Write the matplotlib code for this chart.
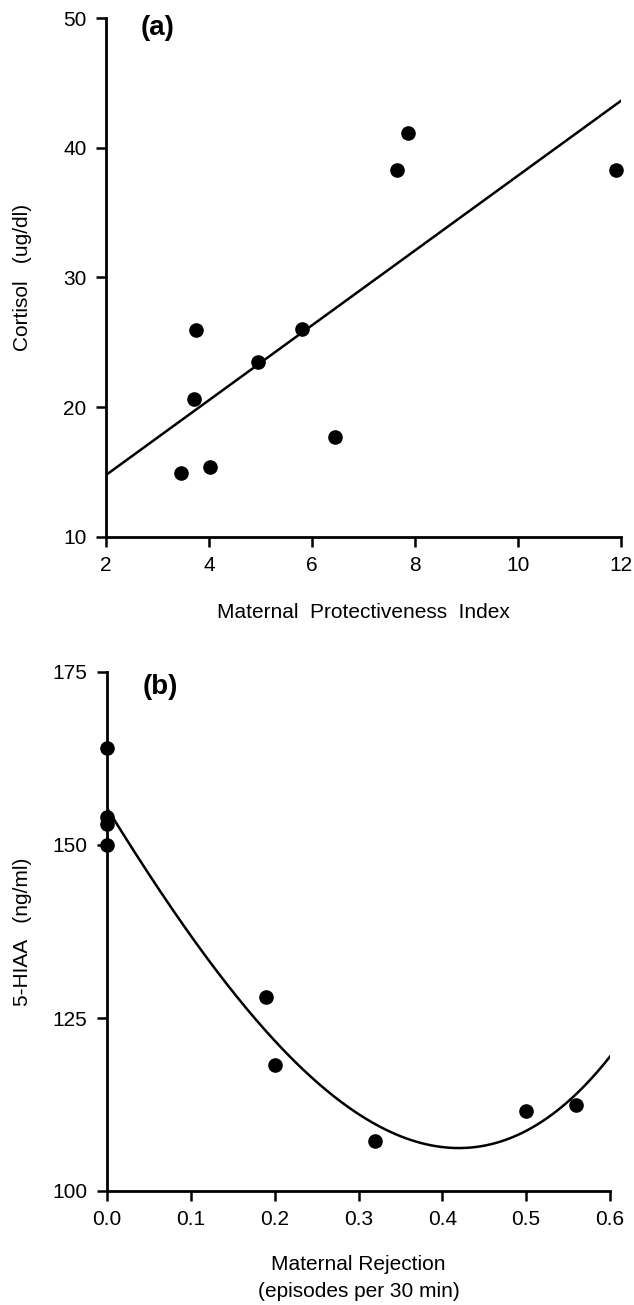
import numpy as np
import matplotlib
matplotlib.use("Agg")
import matplotlib.pyplot as plt

plt.rcParams['font.family'] = ['Liberation Sans', 'DejaVu Sans']

#panel a data
protect_x = [3.46, 4.02, 3.75, 3.71, 4.96, 5.80, 6.44, 7.86, 7.65, 11.9]
cortisol_y = [14.95, 15.4, 25.95, 20.6, 23.5, 26.0, 17.7, 41.15, 38.3, 38.3]
a_xticks = [2, 4, 6, 8, 10, 12]
a_yticks = [10, 20, 30, 40, 50]

#panel b data
reject_x = [0.0, 0.0, 0.0, 0.0, 0.19, 0.20, 0.32, 0.50, 0.56]
hiaa_y = [164.0, 154.0, 153.0, 150.0, 128.1, 118.2, 107.2, 111.6, 112.4]
b_xticks = [0.0, 0.1, 0.2, 0.3, 0.4, 0.5, 0.6]
b_yticks = [100, 125, 150, 175]

W, H = 634, 1305
fig = plt.figure(figsize=(W/100, H/100), dpi=100)

ax_a = fig.add_axes([106/W, 1-537/H, (621-106)/W, (537-18)/H])
ax_b = fig.add_axes([107/W, 1-1191/H, (610-107)/W, (1191-672)/H])

fs = 15

def style(ax):
    ax.spines['top'].set_visible(False)
    ax.spines['right'].set_visible(False)
    for s in ['left', 'bottom']:
        ax.spines[s].set_linewidth(2.0)
    ax.tick_params(direction='out', length=7, width=1.8, labelsize=fs, pad=7)
    ax.patch.set_alpha(0)

#panel a: scatter + regression line
style(ax_a)
ax_a.plot(protect_x, cortisol_y, 'o', color='black', markersize=9.5, clip_on=False)
coef_a = np.polyfit(protect_x, cortisol_y, 1)
xa = np.array([2, 12])
ax_a.plot(xa, np.polyval(coef_a, xa), color='black', linewidth=1.8)
ax_a.set_xlim(2, 12)
ax_a.set_ylim(10, 50)
ax_a.set_xticks(a_xticks)
ax_a.set_yticks(a_yticks)
ax_a.set_xlabel("Maternal  Protectiveness  Index", fontsize=fs, va='center')
ax_a.xaxis.set_label_coords(0.5, (537-613)/519)
ax_a.set_ylabel("Cortisol   (ug/dl)", fontsize=fs, va='center')
ax_a.yaxis.set_label_coords((23-106)/515, 0.5)
ax_a.text(0.10, 0.981, "(a)", transform=ax_a.transAxes, fontsize=20, fontweight='bold',
          ha='center', va='center')

#panel b: scatter + polynomial fit
style(ax_b)
ax_b.plot(reject_x, hiaa_y, 'o', color='black', markersize=9.5, clip_on=False)
coef_b = np.polyfit(reject_x, hiaa_y, 3)
xb = np.linspace(0, 0.6, 200)
ax_b.plot(xb, np.polyval(coef_b, xb), color='black', linewidth=1.8)
ax_b.set_xlim(0, 0.6)
ax_b.set_ylim(100, 175)
ax_b.set_xticks(b_xticks)
ax_b.set_xticklabels([f"{v:.1f}" for v in b_xticks])
ax_b.set_yticks(b_yticks)
ax_b.set_xlabel("Maternal Rejection\n(episodes per 30 min)", fontsize=fs, va='center', linespacing=1.5)
ax_b.xaxis.set_label_coords(0.5, (1191-1278)/519)
ax_b.set_ylabel("5-HIAA   (ng/ml)", fontsize=fs, va='center')
ax_b.yaxis.set_label_coords((23-107)/503, 0.5)
ax_b.text(0.105, 0.971, "(b)", transform=ax_b.transAxes, fontsize=20, fontweight='bold',
          ha='center', va='center')

fig.savefig("out.png", dpi=100)
